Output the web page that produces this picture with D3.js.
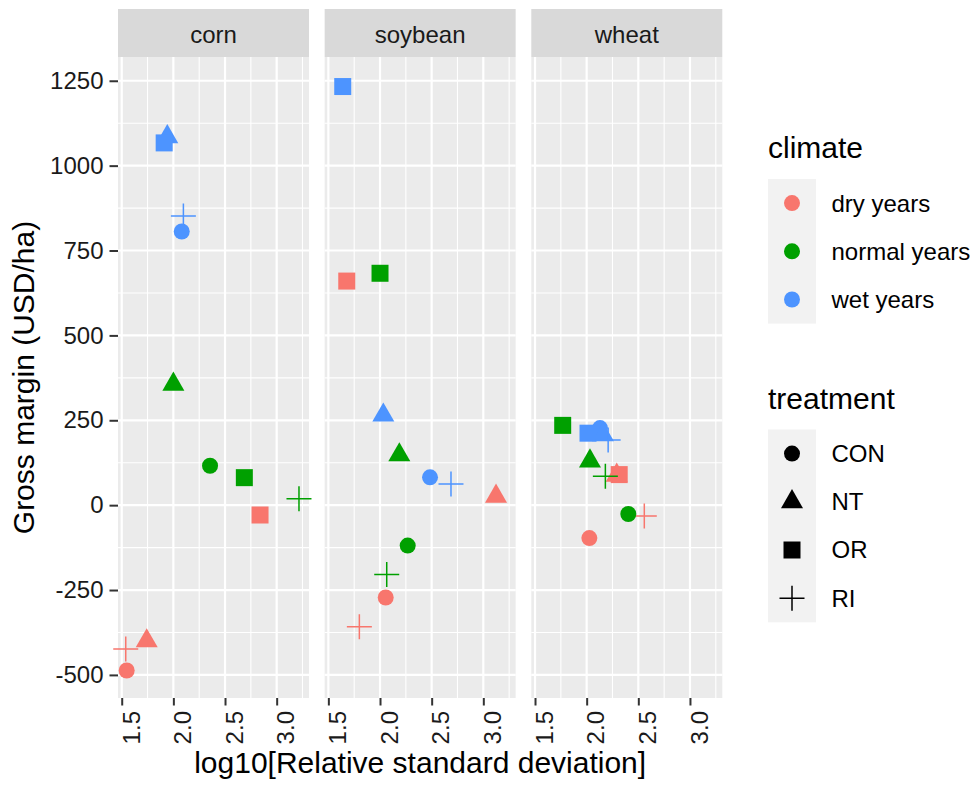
<!DOCTYPE html>
<html>
<head>
<meta charset="utf-8">
<script src="https://cdn.jsdelivr.net/npm/d3@7"></script>
<style>
  body { margin: 0; background: white; }
  text { font-family: "Liberation Sans", Arial, sans-serif; }
</style>
</head>
<body>
<div id="container"></div>
<script>

// facets and legend levels
const crops = ["corn", "soybean", "wheat"];
const climates = ["dry years", "normal years", "wet years"];
const treatments = ["CON", "NT", "OR", "RI"];

// one row per crop x climate x treatment, in that order
const rowCrop = [
  "corn","corn","corn","corn","corn","corn","corn","corn","corn","corn","corn","corn",
  "soybean","soybean","soybean","soybean","soybean","soybean","soybean","soybean","soybean","soybean","soybean","soybean",
  "wheat","wheat","wheat","wheat","wheat","wheat","wheat","wheat","wheat","wheat","wheat","wheat"];
const rowClimate = [
  "dry years","dry years","dry years","dry years","normal years","normal years","normal years","normal years","wet years","wet years","wet years","wet years",
  "dry years","dry years","dry years","dry years","normal years","normal years","normal years","normal years","wet years","wet years","wet years","wet years",
  "dry years","dry years","dry years","dry years","normal years","normal years","normal years","normal years","wet years","wet years","wet years","wet years"];
const rowTreatment = [
  "CON","NT","OR","RI","CON","NT","OR","RI","CON","NT","OR","RI",
  "CON","NT","OR","RI","CON","NT","OR","RI","CON","NT","OR","RI",
  "CON","NT","OR","RI","CON","NT","OR","RI","CON","NT","OR","RI"];

// log10 relative standard deviation
const logRsd = [
  1.548, 1.742, 2.839, 1.539,  2.355, 2.000, 2.687, 3.216,  2.081, 1.941, 1.911, 2.097,
  2.055, 3.123, 1.678, 1.800,  2.268, 2.187, 2.000, 2.065,  2.484, 2.032, 1.639, 2.687,
  2.026, 2.291, 2.315, 2.558,  2.403, 2.032, 1.768, 2.181,  2.129, 2.158, 2.013, 2.208];

// gross margin, USD/ha
const grossMargin = [
  -487, -400,  -29, -424,   116,  356,   81,   19,   806, 1085, 1067,  852,
  -272,   26,  660, -358,  -119,  148,  683, -204,    82,  265, 1233,   62,
   -97,   88,   90,  -32,   -26,  130,  235,   85,   227,  207,  212,  192];

const xTicks = [1.5, 2.0, 2.5, 3.0];
const yTicks = [-500, -250, 0, 250, 500, 750, 1000, 1250];

const colors = ["#F8766D", "#00A000", "#4D94FF"];

const width = 975, height = 785;
const panelTop = 57, panelBottom = 698;

const svg = d3.create("svg")
    .attr("width", width)
    .attr("height", height)
    .style("background", "white");

const facet = d3.scaleBand().domain(crops).range([118, 722.3]).paddingInner(0.0757).paddingOuter(0);
const bw = facet.bandwidth();

const x = d3.scaleLinear().domain([1.464, 3.313]).range([0, bw]);
const y = d3.scaleLinear().domain([-568, 1320]).range([panelBottom, panelTop]);
const color = d3.scaleOrdinal().domain(climates).range(colors);

// minor breaks sit half way between majors
function minors(ticks, dom) {
  const step = ticks[1] - ticks[0];
  const out = [];
  for (let v = ticks[0] - step / 2; v <= ticks[ticks.length - 1] + step / 2; v += step) {
    if (v >= dom[0] && v <= dom[1]) out.push(v);
  }
  return out;
}
const xMinor = minors(xTicks, x.domain());
const yMinor = minors(yTicks, y.domain());

const data = logRsd.map((v, i) => ({
  crop: rowCrop[i], climate: rowClimate[i], treatment: rowTreatment[i],
  x: v, y: grossMargin[i]
}));

// symbol drawing, same look as ggplot shapes 16/17/15/3
function drawShape(sel, t, fill) {
  if (t === "RI") {
    sel.append("path")
      .attr("d", "M-12.5,0H12.5M0,-12.5V12.5")
      .attr("stroke", fill)
      .attr("stroke-width", 1.5)
      .attr("fill", "none");
  } else {
    const type = { CON: d3.symbolCircle, NT: d3.symbolTriangle, OR: d3.symbolSquare }[t];
    const size = { CON: 201, NT: 210, OR: 289 }[t];
    sel.append("path")
      .attr("d", d3.symbol(type, size)())
      .attr("fill", fill);
  }
}

crops.forEach((crop, ci) => {
  const g = svg.append("g").attr("transform", `translate(${facet(crop)},0)`);

  // strip
  g.append("rect")
    .attr("x", 0).attr("y", 9)
    .attr("width", bw).attr("height", panelTop - 9)
    .attr("fill", "#D9D9D9");
  g.append("text")
    .attr("x", bw / 2).attr("y", 42.5)
    .attr("text-anchor", "middle")
    .attr("font-size", 24)
    .attr("fill", "#1A1A1A")
    .text(crop);

  // panel
  g.append("rect")
    .attr("x", 0).attr("y", panelTop)
    .attr("width", bw).attr("height", panelBottom - panelTop)
    .attr("fill", "#EBEBEB");

  g.selectAll(".ymin").data(yMinor).enter().append("line")
    .attr("x1", 0).attr("x2", bw)
    .attr("y1", d => y(d)).attr("y2", d => y(d))
    .attr("stroke", "white").attr("stroke-width", 1.1);
  g.selectAll(".xmin").data(xMinor).enter().append("line")
    .attr("x1", d => x(d)).attr("x2", d => x(d))
    .attr("y1", panelTop).attr("y2", panelBottom)
    .attr("stroke", "white").attr("stroke-width", 1.1);
  g.selectAll(".ymaj").data(yTicks).enter().append("line")
    .attr("x1", 0).attr("x2", bw)
    .attr("y1", d => y(d)).attr("y2", d => y(d))
    .attr("stroke", "white").attr("stroke-width", 2.2);
  g.selectAll(".xmaj").data(xTicks).enter().append("line")
    .attr("x1", d => x(d)).attr("x2", d => x(d))
    .attr("y1", panelTop).attr("y2", panelBottom)
    .attr("stroke", "white").attr("stroke-width", 2.2);

  // points
  data.filter(d => d.crop === crop).forEach(d => {
    const p = g.append("g").attr("transform", `translate(${x(d.x)},${y(d.y)})`);
    drawShape(p, d.treatment, color(d.climate));
  });

  // x axis
  const ax = g.append("g")
    .attr("transform", `translate(0,${panelBottom})`)
    .call(d3.axisBottom(x).tickValues(xTicks).tickFormat(d3.format(".1f")).tickSize(7.5));
  ax.select(".domain").remove();
  ax.selectAll(".tick line").attr("stroke", "#333333").attr("stroke-width", 2);
  ax.selectAll(".tick text")
    .attr("transform", "rotate(-90)")
    .attr("x", -13).attr("y", 0).attr("dy", "0.72em")
    .attr("text-anchor", "end")
    .attr("font-size", 24)
    .attr("font-family", "Liberation Sans, Arial, sans-serif")
    .attr("fill", "#1A1A1A");

  if (ci === 0) {
    const ay = g.append("g")
      .call(d3.axisLeft(y).tickValues(yTicks).tickFormat(d => String(d)).tickSize(8.5).tickPadding(6));
    ay.select(".domain").remove();
    ay.selectAll(".tick line").attr("stroke", "#333333").attr("stroke-width", 2);
    ay.selectAll(".tick text")
      .attr("font-size", 24)
      .attr("font-family", "Liberation Sans, Arial, sans-serif")
      .attr("fill", "#1A1A1A");
  }
});

// axis titles
svg.append("text")
  .attr("x", (118 + 722.3) / 2).attr("y", 773)
  .attr("text-anchor", "middle")
  .attr("font-size", 30)
  .attr("fill", "black")
  .text("log10[Relative standard deviation]");
svg.append("text")
  .attr("transform", `translate(34,${(panelTop + panelBottom) / 2}) rotate(-90)`)
  .attr("text-anchor", "middle")
  .attr("font-size", 30)
  .attr("fill", "black")
  .text("Gross margin (USD/ha)");

// legends
const keyH = 48.2;
function legend(title, items, titleY, draw) {
  const lg = svg.append("g").attr("transform", "translate(768,0)");
  lg.append("text").attr("x", 0).attr("y", titleY)
    .attr("font-size", 30).attr("fill", "black").text(title);
  const top = titleY + 21;
  lg.append("rect").attr("x", 0).attr("y", top)
    .attr("width", 48).attr("height", keyH * items.length)
    .attr("fill", "#F2F2F2");
  items.forEach((it, i) => {
    const cy = top + keyH * (i + 0.5);
    const k = lg.append("g").attr("transform", `translate(24,${cy})`);
    draw(k, it);
    lg.append("text").attr("x", 63.5).attr("y", cy).attr("dy", "0.35em")
      .attr("font-size", 24).attr("fill", "black").text(it);
  });
}
legend("climate", climates, 158, (k, it) => drawShape(k, "CON", color(it)));
legend("treatment", treatments, 408.5, (k, it) => drawShape(k, it, "black"));

container.append(svg.node());
</script>
</body>
</html>
